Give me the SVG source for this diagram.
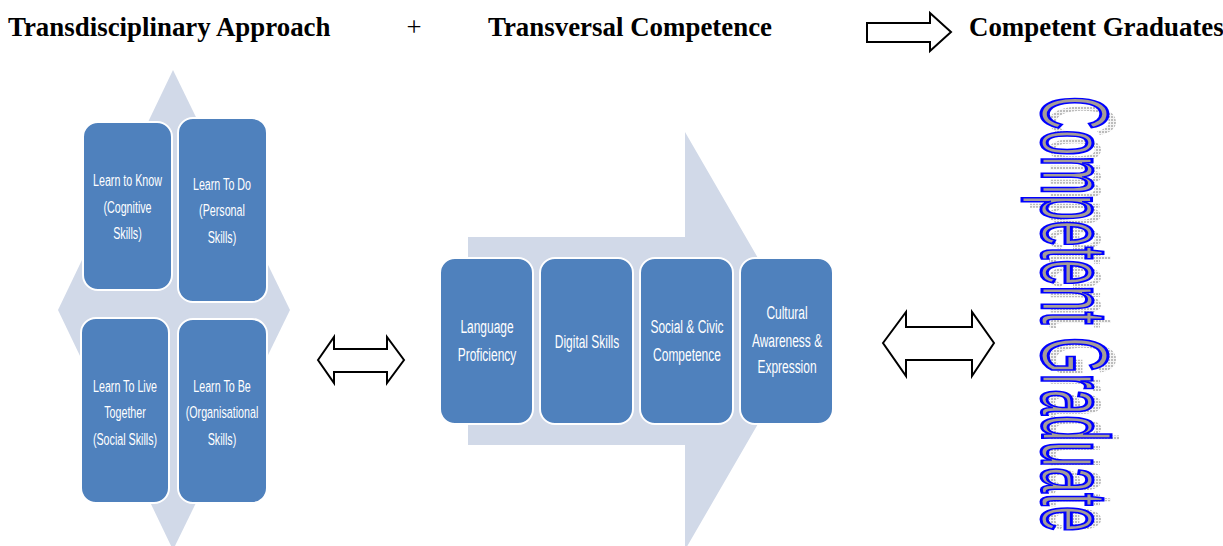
<svg xmlns="http://www.w3.org/2000/svg" width="1223" height="546" viewBox="0 0 1223 546">
<defs>
<pattern id="dots" width="3" height="3" patternUnits="userSpaceOnUse">
<rect width="3" height="3" fill="#f4f4f4"/>
<rect width="2" height="2" fill="#bcbcbc"/>
</pattern>
<style>
.hdr{font-family:"Liberation Serif","Times New Roman",serif;font-weight:bold;font-size:26.9px;fill:#000}
.plus{font-family:"Liberation Serif","Times New Roman",serif;font-size:26.7px;fill:#000}
.bg{fill:#d1d9e8}
.box{fill:#4f81bd;stroke:#ffffff;stroke-width:2}
.lt{font-family:"Liberation Sans",Arial,sans-serif;font-size:17px;fill:#ffffff;text-anchor:middle}
.mt{font-family:"Liberation Sans",Arial,sans-serif;font-size:19px;fill:#ffffff;text-anchor:middle}
.blk{fill:#ffffff;stroke:#000000;stroke-width:2;stroke-linejoin:miter}
.wa{font-family:"Liberation Sans",Arial,sans-serif;font-size:95px}
</style>
</defs>
<rect width="1223" height="546" fill="#ffffff"/>

<g id="header">
<text class="hdr" x="8" y="36">Transdisciplinary Approach</text>
<text class="plus" x="414" y="36" text-anchor="middle">+</text>
<text class="hdr" x="488" y="36">Transversal Competence</text>
<text class="hdr" x="969" y="36">Competent Graduates</text>
</g>

<g id="connectors">
<polygon class="blk" stroke-width="1.5" points="867,23 930,23 930,13 951,32 930,51 930,42 867,42"/>
<polygon class="blk" points="318,360 334,337 334,349 387,349 387,337 404,360 387,383 387,372 334,372 334,383"/>
<polygon class="blk" points="883,343 906,312 906,327 972,327 972,312 994,343 972,376 972,360 906,360 906,376"/>
</g>

<g id="transdisciplinary">
<polygon class="bg" points="173,70 290,310 173,550 58,310"/>
<g id="learn-know">
<rect class="box" x="83" y="122" width="89" height="168" rx="15"/>
<g transform="translate(127.5,0) scale(0.63,1)">
<text class="lt" x="0" y="186">Learn to Know</text>
<text class="lt" x="0" y="213">(Cognitive</text>
<text class="lt" x="0" y="239">Skills)</text>
</g>
</g>
<g id="learn-do">
<rect class="box" x="178" y="118" width="89" height="184" rx="15"/>
<g transform="translate(222,0) scale(0.63,1)">
<text class="lt" x="0" y="190">Learn To Do</text>
<text class="lt" x="0" y="216">(Personal</text>
<text class="lt" x="0" y="243">Skills)</text>
</g>
</g>
<g id="learn-live">
<rect class="box" x="81" y="318" width="88" height="185" rx="15"/>
<g transform="translate(125,0) scale(0.63,1)">
<text class="lt" x="0" y="392">Learn To Live</text>
<text class="lt" x="0" y="418">Together</text>
<text class="lt" x="0" y="445">(Social Skills)</text>
</g>
</g>
<g id="learn-be">
<rect class="box" x="178" y="319" width="89" height="184" rx="15"/>
<g transform="translate(222,0) scale(0.63,1)">
<text class="lt" x="0" y="392">Learn To Be</text>
<text class="lt" x="0" y="418">(Organisational</text>
<text class="lt" x="0" y="445">Skills)</text>
</g>
</g>
</g>

<g id="transversal">
<polygon class="bg" points="468,237 685,237 685,132 806,341 685,550 685,445 468,445"/>
<g id="language">
<rect class="box" x="440" y="258" width="93" height="166" rx="15"/>
<g transform="translate(487,0) scale(0.63,1)">
<text class="mt" x="0" y="333">Language</text>
<text class="mt" x="0" y="361">Proficiency</text>
</g>
</g>
<g id="digital">
<rect class="box" x="540" y="258" width="93" height="166" rx="15"/>
<g transform="translate(587,0) scale(0.63,1)">
<text class="mt" x="0" y="348">Digital Skills</text>
</g>
</g>
<g id="social">
<rect class="box" x="640" y="258" width="93" height="166" rx="15"/>
<g transform="translate(687,0) scale(0.63,1)">
<text class="mt" x="0" y="333">Social &amp; Civic</text>
<text class="mt" x="0" y="361">Competence</text>
</g>
</g>
<g id="cultural">
<rect class="box" x="740" y="258" width="93" height="166" rx="15"/>
<g transform="translate(787,0) scale(0.63,1)">
<text class="mt" x="0" y="319">Cultural</text>
<text class="mt" x="0" y="347">Awareness &amp;</text>
<text class="mt" x="0" y="373">Expression</text>
</g>
</g>
</g>

<g id="graduates">
<text class="wa" transform="translate(1050,104) rotate(90)" textLength="428" lengthAdjust="spacingAndGlyphs" fill="url(#dots)">Competent Graduate</text>
<text class="wa" transform="translate(1042,96) rotate(90)" textLength="436" lengthAdjust="spacingAndGlyphs" fill="#a59d96" stroke="#0000ff" stroke-width="3">Competent Graduate</text>
</g>
</svg>
